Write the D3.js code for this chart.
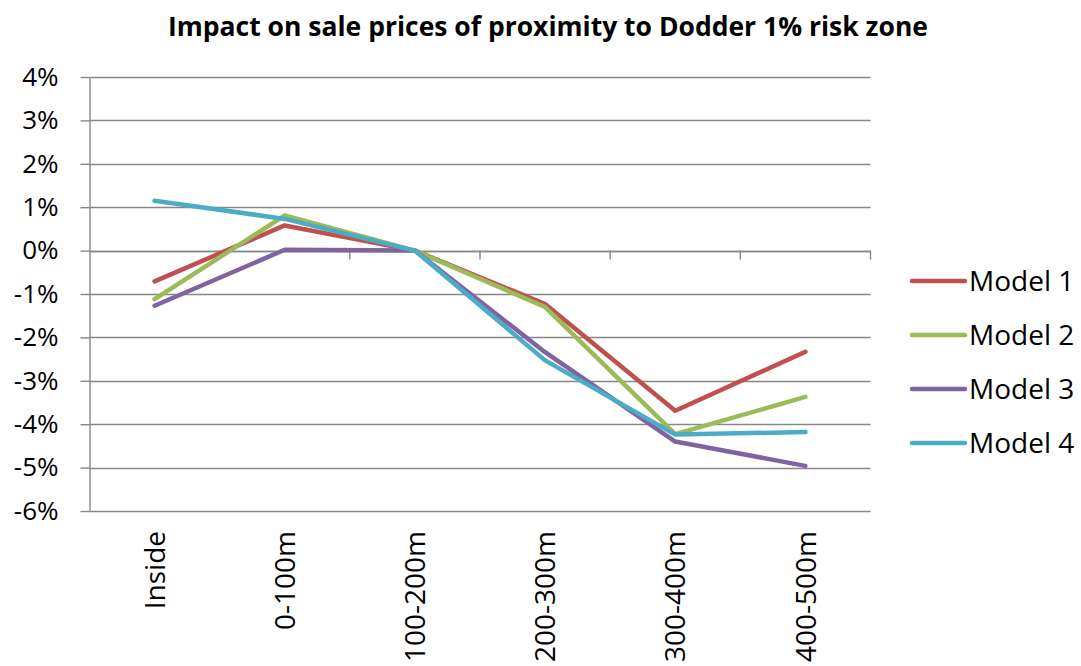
<!DOCTYPE html>
<html>
<head>
<meta charset="utf-8">
<script src="https://cdn.jsdelivr.net/npm/d3@7"></script>
<style>
  html, body { margin: 0; padding: 0; background: #ffffff; }
  svg { display: block; }
  text { font-family: "Open Sans", "Liberation Sans", sans-serif; fill: #000; }
</style>
</head>
<body>
<svg id="chart" width="1081" height="666"></svg>
<script>
// Distance bands from the Dodder 1% flood risk zone
const categories = ["Inside", "0-100m", "100-200m", "200-300m", "300-400m", "400-500m"];

// Estimated effect on sale price, per model
const model1 = [-0.0071, 0.0058, 0.0000, -0.0123, -0.0369, -0.0233];
const model2 = [-0.0112, 0.0081, 0.0000, -0.0130, -0.0423, -0.0337];
const model3 = [-0.0127, 0.0002, 0.0000, -0.0234, -0.0440, -0.0496];
const model4 = [0.0115, 0.0073, 0.0000, -0.0253, -0.0424, -0.0418];

const seriesNames = ["Model 1", "Model 2", "Model 3", "Model 4"];
const seriesValues = [model1, model2, model3, model4];
const seriesColors = ["#C0504D", "#9BBB59", "#8064A2", "#4BACC6"];

const yTicks = [-0.06, -0.05, -0.04, -0.03, -0.02, -0.01, 0, 0.01, 0.02, 0.03, 0.04];
const title = "Impact on sale prices of proximity to Dodder 1% risk zone";

const svg = d3.select("#chart");
const plot = { left: 89.5, right: 870.5, top: 77, bottom: 511 };
const gridColor = "#878787";

const x = d3.scalePoint()
  .domain(categories)
  .range([plot.left, plot.right])
  .padding(0.5);

const y = d3.scaleLinear()
  .domain([-0.06, 0.04])
  .range([plot.bottom, plot.top]);

// Percent labels with a plain hyphen for negatives
const pct = d => `${Math.round(d * 100)}%`;

// Title
svg.append("text")
  .attr("x", 548)
  .attr("y", 36)
  .attr("text-anchor", "middle")
  .style("font-size", "26.5px")
  .style("font-weight", "bold")
  .text(title);

// Horizontal gridlines
svg.append("g")
  .selectAll("line")
  .data(yTicks)
  .join("line")
  .attr("x1", plot.left)
  .attr("x2", plot.right)
  .attr("y1", d => Math.round(y(d)) + 0.5)
  .attr("y2", d => Math.round(y(d)) + 0.5)
  .attr("stroke", gridColor)
  .attr("stroke-width", 1.4);

// Value axis
const yAxis = d3.axisLeft(y)
  .tickValues(yTicks)
  .tickFormat(pct)
  .tickSizeInner(9)
  .tickSizeOuter(0)
  .tickPadding(22);

const yAxisG = svg.append("g")
  .attr("transform", `translate(${plot.left},0)`)
  .call(yAxis);
yAxisG.select(".domain").attr("stroke", gridColor).attr("stroke-width", 1.4);
yAxisG.selectAll(".tick line").attr("stroke", gridColor).attr("stroke-width", 1.4);
yAxisG.selectAll(".tick text")
  .style("font-size", "26px")
  .style("font-family", "'Open Sans', sans-serif")
  .attr("fill", "#000");

// Category axis crossing at 0%, with tick marks between categories
const step = x.step();
const boundaries = d3.range(categories.length + 1).map(i => plot.left + i * step);
const catAxis = svg.append("g");
catAxis.append("line")
  .attr("x1", plot.left)
  .attr("x2", plot.right)
  .attr("y1", Math.round(y(0)) + 0.5)
  .attr("y2", Math.round(y(0)) + 0.5)
  .attr("stroke", gridColor)
  .attr("stroke-width", 1.4);
catAxis.selectAll("line.tick")
  .data(boundaries.slice(1))
  .join("line")
  .attr("class", "tick")
  .attr("x1", d => d)
  .attr("x2", d => d)
  .attr("y1", y(0))
  .attr("y2", y(0) + 9)
  .attr("stroke", gridColor)
  .attr("stroke-width", 1.4);

// Category labels along the bottom, rotated
svg.append("g")
  .selectAll("text")
  .data(categories)
  .join("text")
  .attr("transform", d => `translate(${x(d)},${plot.bottom + 20}) rotate(-90)`)
  .attr("text-anchor", "end")
  .attr("dy", "0.36em")
  .style("font-size", "28px")
  .text(d => d);

// Series lines
const line = d3.line()
  .x((d, i) => x(categories[i]))
  .y(d => y(d));

svg.append("g")
  .selectAll("path")
  .data(seriesValues)
  .join("path")
  .attr("d", d => line(d))
  .attr("fill", "none")
  .attr("stroke", (d, i) => seriesColors[i])
  .attr("stroke-width", 4.5)
  .attr("stroke-linecap", "round")
  .attr("stroke-linejoin", "round");

// Legend
const legend = svg.append("g")
  .attr("transform", "translate(910,281)");
const item = legend.selectAll("g")
  .data(seriesNames)
  .join("g")
  .attr("transform", (d, i) => `translate(0,${i * 54})`);
item.append("line")
  .attr("x1", 2)
  .attr("x2", 55)
  .attr("stroke", (d, i) => seriesColors[i])
  .attr("stroke-width", 4.5)
  .attr("stroke-linecap", "round");
item.append("text")
  .attr("x", 59)
  .attr("dy", "0.36em")
  .style("font-size", "28px")
  .text(d => d);
</script>
</body>
</html>
